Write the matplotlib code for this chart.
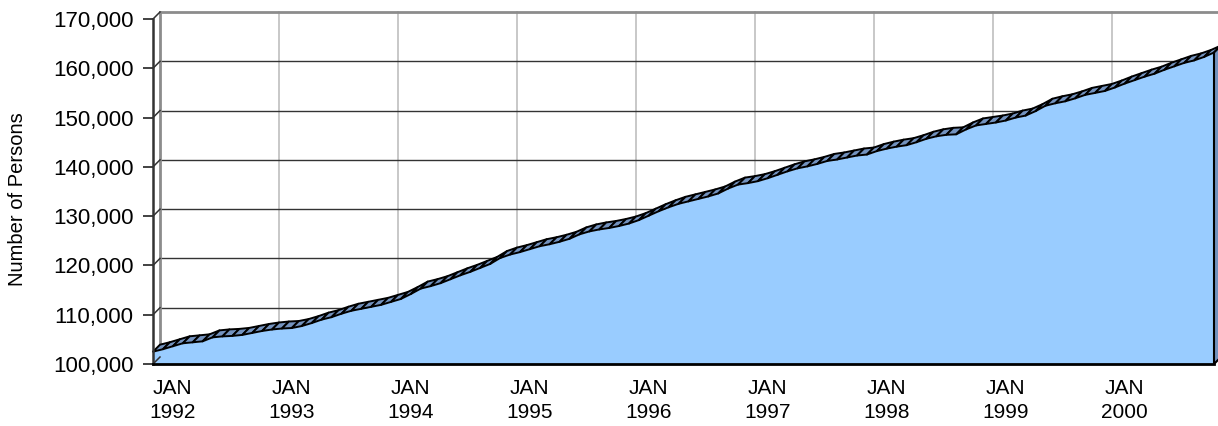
import numpy as np
import matplotlib.pyplot as plt
from matplotlib.patches import Polygon
from matplotlib.transforms import ScaledTranslation

# monthly totals, JAN 1992 .. DEC 2000
persons = [
    102500, 103000, 103600, 104200, 104400, 104600, 105400, 105600, 105700, 105900, 106300, 106700,
    107000, 107200, 107300, 107700, 108300, 109000, 109500, 110200, 110800, 111200, 111600, 112000,
    112600, 113200, 114200, 115300, 115800, 116400, 117200, 118000, 118700, 119500, 120300, 121500,
    122200, 122700, 123300, 123900, 124300, 124800, 125400, 126300, 126900, 127300, 127600, 128000,
    128500, 129200, 130100, 131000, 131800, 132500, 133000, 133500, 134000, 134600, 135600, 136400,
    136700, 137100, 137700, 138400, 139100, 139700, 140100, 140600, 141200, 141500, 141900, 142300,
    142500, 143200, 143700, 144100, 144400, 145000, 145700, 146200, 146500, 146600, 147600, 148400,
    148700, 149000, 149400, 150000, 150400, 151300, 152400, 152900, 153300, 153900, 154600, 155000,
    155400, 156100, 156900, 157600, 158300, 158900, 159700, 160400, 161100, 161600, 162300, 163200,
]
years = ['1992', '1993', '1994', '1995', '1996', '1997', '1998', '1999', '2000']
yticks = [100000, 110000, 120000, 130000, 140000, 150000, 160000, 170000]

plt.rcParams['font.family'] = ['Liberation Sans', 'DejaVu Sans']

fig = plt.figure(figsize=(12.18, 4.26), dpi=100)
ax = fig.add_axes([153 / 1218, 62 / 426, 1061 / 1218, 345 / 426])
months = np.arange(len(persons))
xmax = len(persons) - 1
ymin, ymax = yticks[0], yticks[-1]
ax.set_xlim(0, xmax)
ax.set_ylim(ymin, ymax)

# depth of the 3d look: back wall sits 7 px right and 7 px up
bb = ax.get_window_extent()
dx = 7 * xmax / bb.width
dy = 7 * (ymax - ymin) / bb.height

# back wall
for v in yticks[1:-1]:
    ax.plot([dx, xmax + dx], [v + dy, v + dy], color='#333333', lw=1, zorder=1, clip_on=False)
for k in range(1, len(years)):
    ax.plot([12 * k + dx] * 2, [ymin + dy, ymax + dy], color='#c4c4c4', lw=1.3, zorder=0.9, clip_on=False)
ax.plot([dx, xmax + dx + 5], [ymax + dy] * 2, color='#8c8c8c', lw=2, zorder=1, clip_on=False)
ax.plot([dx, dx], [ymin + dy, ymax + dy], color='#8c8c8c', lw=2, zorder=1, clip_on=False)

# front face of the area
ax.fill_between(months, ymin, persons, color='#99CCFF', lw=0, zorder=2)

# top face, one strip per month
for i in range(xmax):
    quad = [(i, persons[i]), (i + 1, persons[i + 1]),
            (i + 1 + dx, persons[i + 1] + dy), (i + dx, persons[i] + dy)]
    ax.add_patch(Polygon(quad, closed=True, fc='#7392BE', ec='black', lw=1.4,
                         joinstyle='round', zorder=3, clip_on=False))
side = [(xmax, persons[-1]), (xmax + dx, persons[-1] + dy), (xmax + dx, ymin + dy), (xmax, ymin)]
ax.add_patch(Polygon(side, closed=True, fc='#7392BE', ec='black', lw=1.5, zorder=3, clip_on=False))

# little links from front ticks to the back wall
for v in yticks:
    ax.plot([0, dx], [v, v + dy], color='#333333', lw=1.1, zorder=4, clip_on=False)

for s in ['top', 'right']:
    ax.spines[s].set_visible(False)
ax.spines['left'].set_color('#333333')
ax.spines['left'].set_linewidth(1.8)
ax.spines['bottom'].set_color('black')
ax.spines['bottom'].set_linewidth(2)
for s in ax.spines.values():
    s.set_zorder(5)

ax.set_yticks(yticks)
ax.set_yticklabels([f'{v:,}' for v in yticks])
ax.tick_params(axis='y', direction='out', length=7, width=1.3, color='#333333', pad=7, labelsize=16)

ax.set_xticks(range(0, 12 * len(years), 12))
ax.set_xticklabels(['JAN\n' + y for y in years], linespacing=1.35)
ax.tick_params(axis='x', length=0, pad=10.5, labelsize=15)
for lab in ax.get_xticklabels():
    lab.set_transform(lab.get_transform() + ScaledTranslation(14 / 72, 0, fig.dpi_scale_trans))

fig.text(18 / 1218, 0.533, 'Number of Persons', rotation=90, ha='center', va='center', fontsize=14.5)

fig.savefig('out.png', dpi=100)
